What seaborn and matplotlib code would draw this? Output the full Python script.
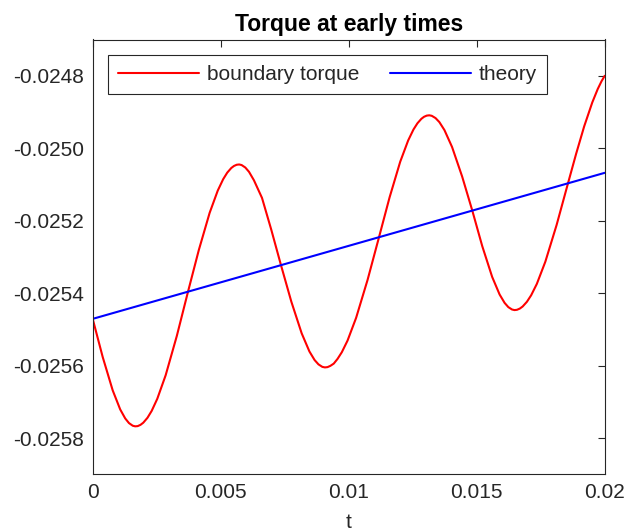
import matplotlib
matplotlib.use("Agg")
import matplotlib.pyplot as plt
import pandas as pd
import seaborn as sns

# boundary torque samples (t, torque)
t_boundary = [
    0.000000, 0.000391, 0.000781, 0.001074, 0.001270, 0.001416, 0.001563, 0.001660, 0.001758,
    0.001867, 0.001976, 0.002140, 0.002304, 0.002522, 0.002850, 0.003286, 0.003723,
    0.004146, 0.004568, 0.004885, 0.005097, 0.005255, 0.005414, 0.005519, 0.005625,
    0.005721, 0.005817, 0.005961, 0.006106, 0.006298, 0.006613, 0.006971, 0.007355,
    0.007759, 0.008163, 0.008465, 0.008667, 0.008819, 0.008970, 0.009071, 0.009172,
    0.009284, 0.009416, 0.009563, 0.009731, 0.009955, 0.010290, 0.010737, 0.011184,
    0.011598, 0.012012, 0.012323, 0.012530, 0.012685, 0.012840, 0.012943, 0.013047,
    0.013146, 0.013245, 0.013393, 0.013542, 0.013740, 0.014037, 0.014432, 0.014828,
    0.015216, 0.015604, 0.015895, 0.016089, 0.016235, 0.016380, 0.016477, 0.016574,
    0.016685, 0.016795, 0.016961, 0.017127, 0.017349, 0.017681, 0.018123, 0.018566,
    0.018883, 0.019199, 0.019516, 0.019727, 0.019875, 0.020000,
]
torque_boundary = [
    -0.0254710, -0.0255764, -0.0256683, -0.0257209, -0.0257458, -0.0257586, -0.0257659, -0.0257676, -0.0257670,
    -0.0257635, -0.0257576, -0.0257440, -0.0257250, -0.0256917, -0.0256266, -0.0255181, -0.0253960,
    -0.0252808, -0.0251784, -0.0251170, -0.0250855, -0.0250675, -0.0250546, -0.0250490, -0.0250457,
    -0.0250449, -0.0250465, -0.0250533, -0.0250652, -0.0250885, -0.0251371, -0.0252238, -0.0253228,
    -0.0254235, -0.0255109, -0.0255609, -0.0255846, -0.0255966, -0.0256035, -0.0256050, -0.0256042,
    -0.0256007, -0.0255945, -0.0255816, -0.0255631, -0.0255309, -0.0254681, -0.0253635, -0.0252456,
    -0.0251354, -0.0250374, -0.0249786, -0.0249484, -0.0249312, -0.0249188, -0.0249133, -0.0249101,
    -0.0249092, -0.0249106, -0.0249169, -0.0249280, -0.0249500, -0.0249966, -0.0250783, -0.0251722,
    -0.0252701, -0.0253552, -0.0254038, -0.0254268, -0.0254386, -0.0254452, -0.0254468, -0.0254460,
    -0.0254426, -0.0254369, -0.0254239, -0.0254059, -0.0253745, -0.0253133, -0.0252115, -0.0250969,
    -0.0250157, -0.0249396, -0.0248735, -0.0248368, -0.0248153, -0.0248002,
]

# theory (linear in t)
t_theory = [0.0, 0.02]
torque_theory = [-0.025471, -0.025068]

x_ticks = [0, 0.005, 0.01, 0.015, 0.02]
x_tick_labels = ["0", "0.005", "0.01", "0.015", "0.02"]
y_ticks = [-0.0258, -0.0256, -0.0254, -0.0252, -0.0250, -0.0248]
y_tick_labels = ["-0.0258", "-0.0256", "-0.0254", "-0.0252", "-0.0250", "-0.0248"]

sns.set_style("white")
plt.rcParams["font.family"] = ["Liberation Sans", "DejaVu Sans"]

edge = "#262626"
fig = plt.figure(figsize=(6.36, 5.31), dpi=100)
ax = fig.add_axes([92.7 / 636, 1 - 474.3 / 531, (604.7 - 92.7) / 636, (474.3 - 39.5) / 531])

df_b = pd.DataFrame({"t": t_boundary, "torque": torque_boundary})
df_t = pd.DataFrame({"t": t_theory, "torque": torque_theory})
sns.lineplot(data=df_b, x="t", y="torque", ax=ax, color="#ff0000", lw=1.5,
             sort=False, estimator=None, label="boundary torque")
sns.lineplot(data=df_t, x="t", y="torque", ax=ax, color="#0000ff", lw=1.5,
             sort=False, estimator=None, label="theory")

ax.set_xlim(0, 0.02)
ax.set_ylim(-0.0259, -0.0247)
ax.set_xticks(x_ticks)
ax.set_xticklabels(x_tick_labels)
ax.set_yticks(y_ticks)
ax.set_yticklabels(y_tick_labels)
ax.tick_params(direction="in", length=5, width=0.8, color=edge, labelcolor=edge,
               labelsize=15, top=True, right=True, pad=6)
for s in ax.spines.values():
    s.set_visible(True)
    s.set_color(edge)
    s.set_linewidth(0.8)

ax.set_xlabel("t", fontsize=15, color=edge, labelpad=8)
ax.set_ylabel("")
ax.set_title("Torque at early times", fontsize=16.5, fontweight="bold",
             color="black", pad=6)

leg = ax.legend(loc="upper left", bbox_to_anchor=(108.3 / 636, 1 - 55 / 531),
                bbox_transform=fig.transFigure, ncol=2, fontsize=15,
                frameon=True, fancybox=False, borderaxespad=0,
                handlelength=3.85, handletextpad=0.4, columnspacing=1.5,
                borderpad=0.48)
leg.get_frame().set_edgecolor(edge)
leg.get_frame().set_linewidth(0.8)
leg.get_frame().set_alpha(1)

fig.savefig("out.png", dpi=100)
